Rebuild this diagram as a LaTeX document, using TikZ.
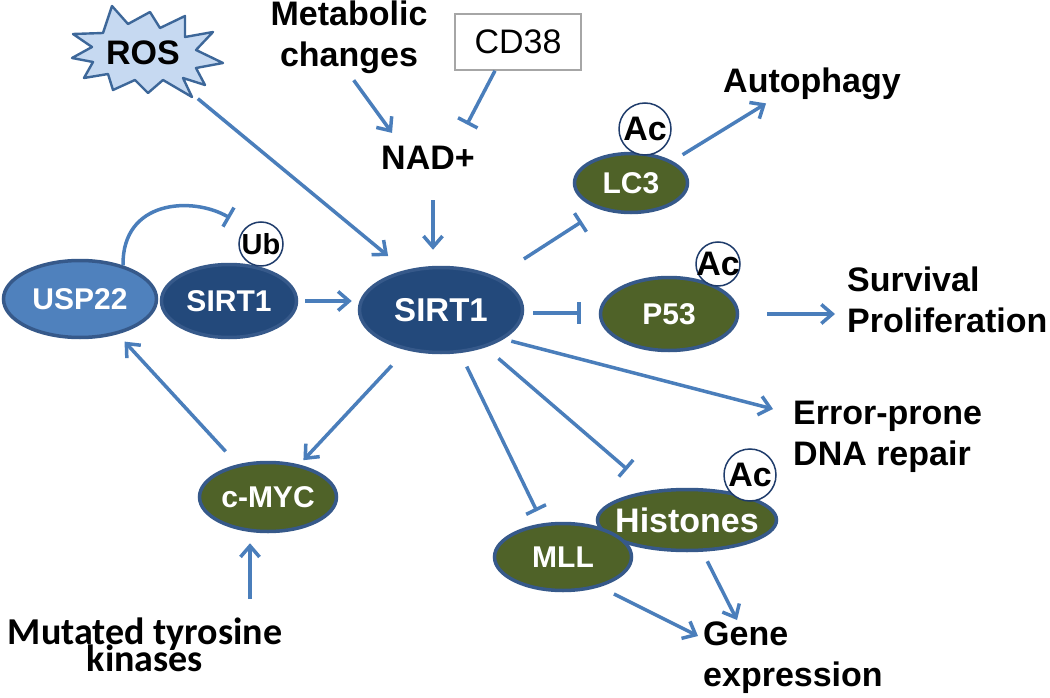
\documentclass[tikz,border=0pt]{standalone}
\usepackage{fontspec}
\setmainfont{Liberation Sans}
\newfontfamily\calib{Carlito}
\usetikzlibrary{shapes.geometric,arrows.meta,calc}
\definecolor{arrowblue}{HTML}{4A7EBB}
\definecolor{olivefill}{HTML}{4F6228}
\definecolor{ellborder}{HTML}{36598A}
\definecolor{sirtfill}{HTML}{23497B}
\definecolor{uspfill}{HTML}{4F81BD}
\definecolor{rosfill}{HTML}{C6D9F1}
\definecolor{rosborder}{HTML}{3D6799}
\definecolor{modborder}{HTML}{1F3C6B}
\definecolor{cdgray}{HTML}{A6A6A6}
\newcommand\mutfont{\calib\bfseries\fontsize{38}{27}\selectfont\lineskiplimit-100pt\relax}
\begin{document}
\begin{tikzpicture}[x=1pt,y=-1pt,
  lbl/.style={inner sep=0pt, font=\fontsize{34}{41}\selectfont\bfseries},
  arr/.style={draw=arrowblue, line width=3.5pt, -{Straight Barb[length=11pt,width=19pt]}},
  inh/.style={draw=arrowblue, line width=3.5pt, -{Bar[width=22pt]}},
  ell/.style={ellipse, draw=ellborder, line width=3.5pt, text=white, inner sep=0pt, font=\fontsize{30}{36}\selectfont\bfseries},
  modc/.style={circle, draw=modborder, line width=1.5pt, fill=white, inner sep=0pt, font=\fontsize{34}{40}\selectfont\bfseries}]
\useasboundingbox (0,0) rectangle (1050,698);

% ROS starburst
\draw[fill=rosfill, draw=rosborder, line width=2.4pt, line join=round]
  (73,34) -- (103,33) -- (112,6) -- (128,24) -- (150,12) -- (160,28) -- (185,16) -- (185,37)
  -- (213,32) -- (196,50) -- (223,63) -- (196,68) -- (205,85) -- (183,78) -- (192,97)
  -- (163,80) -- (148,93) -- (135,80) -- (113,90) -- (108,74) -- (84,78) -- (93,62)
  -- (72,58) -- (92,47) -- cycle;
\node[lbl, anchor=base] (ros) at (143,65) {ROS};

% text labels
\node[lbl, align=center, anchor=north] (metab) at (349,0.5) {Metabolic\\changes};
\node[draw=cdgray, line width=1.5pt, minimum width=126pt, minimum height=56pt, inner sep=0pt,
      font=\fontsize{34}{40}\selectfont] (cd38) at (518,42) {CD38};
\node[lbl, anchor=base] (nad) at (428,170) {NAD+};
\node[lbl, anchor=base] (auto) at (812,93) {Autophagy};
\node[lbl, align=left, anchor=north west] (surv) at (847,267) {Survival\\Proliferation};
\node[lbl, align=left, anchor=north west] (err) at (793,400.5) {Error-prone\\DNA repair};
\node[lbl, align=left, anchor=north west] (gene) at (703,622) {Gene\\expression};
\node[inner sep=0pt, align=center, anchor=north, font=\mutfont] (mut) at (145,618) {Mutated tyrosine\\kinases};

% ellipses
\node[ell, fill=uspfill, minimum width=153pt, minimum height=77pt] (usp) at (80,299) {USP22};
\node[ell, fill=sirtfill, minimum width=135pt, minimum height=73pt] (sirts) at (229,301) {SIRT1};
\node[modc, minimum size=44pt, font=\fontsize{29}{34}\selectfont\bfseries] (ub) at (261,244) {Ub};
\node[ell, fill=sirtfill, minimum width=163pt, minimum height=85pt, font=\fontsize{33}{40}\selectfont\bfseries] (sirt) at (441,310) {SIRT1};
\node[ell, fill=olivefill, minimum width=113pt, minimum height=59pt] (lc3) at (631,183) {LC3};
\node[modc, minimum size=52pt] (lc3ac) at (645,129) {Ac};
\node[ell, fill=olivefill, minimum width=137pt, minimum height=73pt] (p53) at (669,314) {P53};
\node[modc, minimum size=44pt, inner sep=-4pt] (p53ac) at (718,264) {Ac};
\node[ell, fill=olivefill, minimum width=179pt, minimum height=61pt, inner xsep=-20pt,
      font=\fontsize{34}{40}\selectfont\bfseries] (hist) at (687,520) {Histones};
\node[ell, fill=olivefill, minimum width=137pt, minimum height=67pt] (mll) at (563,557) {MLL};
\node[modc, minimum size=52pt] (histac) at (750,475) {Ac};
\node[ell, fill=olivefill, minimum width=137pt, minimum height=69pt] (myc) at (268,497) {c-MYC};

% connectors
\draw[arr, shorten <=52pt, shorten >=22pt] (ros) -- (sirt.132);
\draw[arr, shorten <=8pt] (metab.south) -- ([xshift=11pt,yshift=13.5pt]nad.north west);
\draw[inh] ([xshift=-23pt]cd38.south) -- ([xshift=-8pt,yshift=22pt]nad.north east);
\draw[arr, shorten <=30pt, shorten >=16pt] ([xshift=5pt]nad.south) -- ([xshift=-8pt]sirt.north);
\coordinate (ubbar) at (230,218);
\draw[inh] (usp.38) .. controls (122,200) and (192,196) .. (ubbar);
\draw[arr, shorten <=7pt, shorten >=6pt] (sirts.east) -- (sirts.east -| sirt.west);
\draw[inh, shorten <=33pt, shorten >=22pt] (sirt.31) -- (lc3.221);
\draw[arr, shorten <=12pt] (lc3.28) -- ([xshift=43pt,yshift=-3pt]auto.south west);
\draw[inh, shorten <=9pt, shorten >=18pt] ([yshift=-3pt]sirt.east) -- ([yshift=-3pt]sirt.east -| p53.west);
\draw[arr, shorten <=28pt, shorten >=12pt] (p53.east) -- (p53.east -| surv.west);
\draw[arr, shorten <=8pt] (sirt.-25.6) -- ([xshift=-20pt,yshift=-8.5pt]err.north west);
\draw[inh, shorten <=17pt, shorten >=32pt] (sirt.-40) -- (hist.140.7);
\draw[inh, shorten <=15pt, shorten >=13.5pt] (sirt.-66.3) -- (mll.121);
\draw[arr, shorten <=21pt, shorten >=6pt] (sirt.229.4) -- (myc.46.6);
\draw[arr, shorten <=17.6pt, shorten >=10pt] (myc.133.7) -- (usp.-43);
\coordinate (mycb) at ([xshift=-18pt]myc.south);
\draw[arr, shorten <=19pt, shorten >=10pt] (mycb |- mut.north) -- (mycb);
\draw[arr, shorten <=15.6pt] (mll.-39.8) -- ([xshift=-5pt,yshift=-14pt]gene.north west);
\draw[arr, shorten <=10.6pt] (hist.-64) -- ([xshift=34pt,yshift=2pt]gene.north west);
\end{tikzpicture}
\end{document}
